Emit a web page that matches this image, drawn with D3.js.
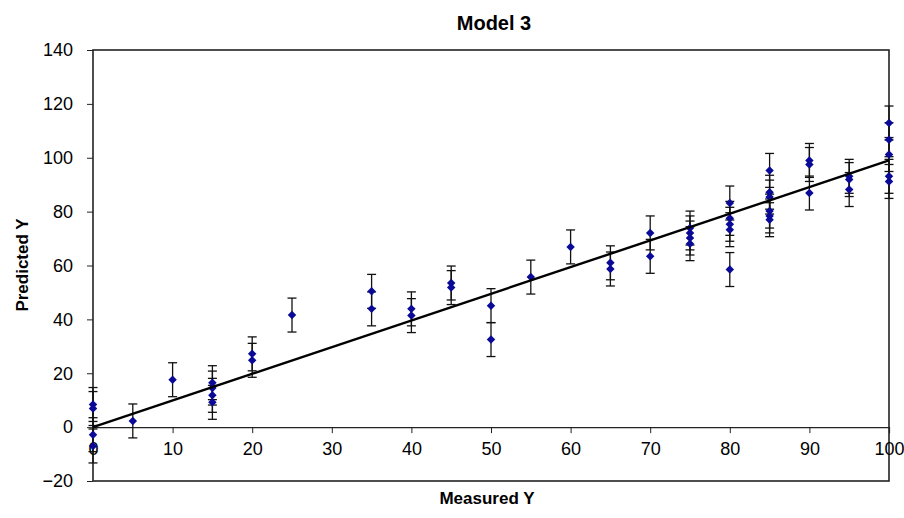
<!DOCTYPE html>
<html>
<head>
<meta charset="utf-8">
<script src="https://cdn.jsdelivr.net/npm/d3@7"></script>
<style>
body { margin: 0; background: #fff; }
text { font-family: "Liberation Sans", Arial, sans-serif; }
</style>
</head>
<body>
<svg id="chart" width="904" height="518"></svg>
<script>
// measured / predicted pairs
var measured = [0, 0, 0, 0, 5, 10, 15, 15, 15, 15, 20, 20, 25, 35, 35, 40, 40, 45, 45, 50, 50, 55, 60, 65, 65,
                70, 70, 75, 75, 75, 75, 80, 80, 80, 80, 80, 85, 85, 85, 85, 85, 85, 90, 90, 90, 95, 95, 95,
                100, 100, 100, 100, 100];
var predicted = [8.4, 6.9, -2.8, -7, 2.3, 17.6, 16.5, 14.5, 11.8, 9.2, 27.2, 24.8, 41.6, 50.4, 43.9, 43.9, 41.4,
                 53.5, 51.8, 45.1, 32.5, 55.7, 66.9, 61, 58.7, 72.1, 63.4, 73.9, 72.1, 70.2, 68.1,
                 83.2, 77.5, 75.3, 73.3, 58.5, 95.3, 87.2, 85.4, 80.2, 78.4, 77, 99, 97.5, 86.9,
                 93.1, 91.9, 88.2, 112.9, 106.7, 101.2, 93.1, 91.2];
var errorBar = 6.3;
var fitX = [0, 100];
var fitY = [0, 99];
var xTicks = [0, 10, 20, 30, 40, 50, 60, 70, 80, 90, 100];
var yTicks = [-20, 0, 20, 40, 60, 80, 100, 120, 140];

var plotLeft = 93, plotRight = 889, plotTop = 50, plotBottom = 481;

var x = d3.scaleLinear().domain([0, 100]).range([plotLeft, plotRight]);
var y = d3.scaleLinear().domain([-20, 140]).range([plotBottom, plotTop]);

var svg = d3.select("#chart");

var data = measured.map(function(m, i) { return {m: m, p: predicted[i]}; });

// plot frame
svg.append("rect")
    .attr("x", plotLeft).attr("y", plotTop)
    .attr("width", plotRight - plotLeft).attr("height", plotBottom - plotTop)
    .attr("fill", "#fff")
    .attr("stroke", "#222")
    .attr("stroke-width", 1.6);

// y axis
var yAxis = svg.append("g")
    .attr("transform", "translate(" + plotLeft + ",0)")
    .call(d3.axisLeft(y).tickValues(yTicks).tickSize(6).tickPadding(14));
yAxis.select(".domain").remove();
yAxis.selectAll("line").attr("stroke", "#222");
yAxis.selectAll("text").attr("font-size", 18).attr("fill", "#000")
    .style("font-family", "'Liberation Sans', Arial, sans-serif");

// x axis sits on y = 0
var xAxis = svg.append("g")
    .attr("transform", "translate(0," + y(0) + ")")
    .call(d3.axisBottom(x).tickValues(xTicks).tickSize(6).tickPadding(9));
xAxis.select(".domain").attr("stroke", "#222").attr("stroke-width", 1.2);
xAxis.selectAll("line").attr("stroke", "#222");
xAxis.selectAll("text").attr("font-size", 18).attr("fill", "#000")
    .style("font-family", "'Liberation Sans', Arial, sans-serif");

// error bars
var eb = svg.append("g").attr("stroke", "#111").attr("stroke-width", 1.3);
eb.selectAll(".whisker")
    .data(data).enter().append("line")
    .attr("x1", function(d) { return x(d.m); })
    .attr("x2", function(d) { return x(d.m); })
    .attr("y1", function(d) { return y(d.p + errorBar); })
    .attr("y2", function(d) { return y(d.p - errorBar); });
eb.selectAll(".capTop")
    .data(data).enter().append("line")
    .attr("x1", function(d) { return x(d.m) - 4.5; })
    .attr("x2", function(d) { return x(d.m) + 4.5; })
    .attr("y1", function(d) { return y(d.p + errorBar); })
    .attr("y2", function(d) { return y(d.p + errorBar); });
eb.selectAll(".capBot")
    .data(data).enter().append("line")
    .attr("x1", function(d) { return x(d.m) - 4.5; })
    .attr("x2", function(d) { return x(d.m) + 4.5; })
    .attr("y1", function(d) { return y(d.p - errorBar); })
    .attr("y2", function(d) { return y(d.p - errorBar); });

// diamond markers
svg.append("g").selectAll("path")
    .data(data).enter().append("path")
    .attr("d", d3.symbol().type(d3.symbolSquare).size(36))
    .attr("transform", function(d) { return "translate(" + x(d.m) + "," + y(d.p) + ") rotate(45)"; })
    .attr("fill", "#0a0a96");

// fitted line
svg.append("line")
    .attr("x1", x(fitX[0])).attr("y1", y(fitY[0]))
    .attr("x2", x(fitX[1])).attr("y2", y(fitY[1]))
    .attr("stroke", "#000")
    .attr("stroke-width", 2.4);

// titles
svg.append("text")
    .attr("x", 494).attr("y", 30)
    .attr("text-anchor", "middle")
    .attr("font-size", 20).attr("font-weight", "bold")
    .text("Model 3");

svg.append("text")
    .attr("x", 487).attr("y", 504)
    .attr("text-anchor", "middle")
    .attr("font-size", 17).attr("font-weight", "bold")
    .text("Measured Y");

svg.append("text")
    .attr("transform", "translate(28,265) rotate(-90)")
    .attr("text-anchor", "middle")
    .attr("font-size", 17).attr("font-weight", "bold")
    .text("Predicted Y");
</script>
</body>
</html>
